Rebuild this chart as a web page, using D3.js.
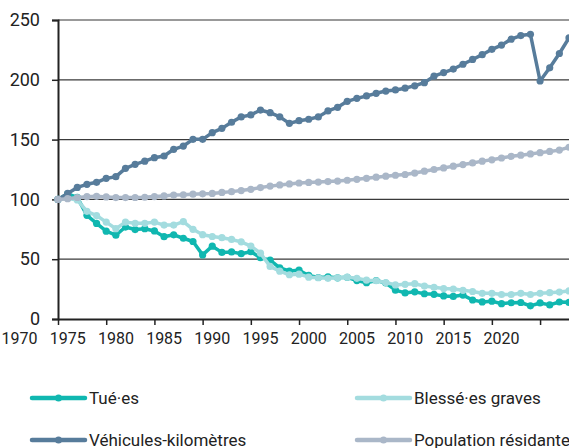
<!DOCTYPE html>
<html>
<head>
<meta charset="utf-8">
<script src="https://cdn.jsdelivr.net/npm/d3@7"></script>
<style>
  body { margin: 0; background: #fff; }
  svg text { font-family: "Roboto", sans-serif; fill: #222; }
</style>
</head>
<body>
<div id="container"></div>
<script>
/** DATA (indice 1970 = 100) */
const years = d3.range(1970, 2024);

const tues = [100, 104.7, 101.7, 86.7, 79.9, 73.4, 70.1, 76.9, 74.8, 75.5,
  73.6, 68.8, 70.4, 67.5, 64.8, 53.6, 60.9, 55.7, 56.1, 54.6,
  56.3, 51.3, 49.2, 42.7, 40.1, 40.8, 36.4, 34.7, 35.2, 34.4,
  34.9, 32.1, 30.3, 32.2, 30.1, 24.1, 21.8, 22.7, 21.1, 20.6,
  19.3, 18.9, 20.0, 15.9, 14.3, 14.9, 12.8, 13.6, 13.8, 11.0,
  13.4, 11.8, 14.2, 13.9];

const blesses = [100, 101, 99.5, 90, 86.5, 81, 75.5, 81, 80, 80,
  81, 78.5, 78.5, 81.5, 75, 70.5, 69, 68, 66.5, 64.5,
  61, 55, 44, 40, 37, 37.5, 35, 34.5, 34, 34.5,
  35, 34, 32.5, 32, 30.5, 28.5, 29, 29.5, 27.5, 26.5,
  25.5, 25, 24, 23, 21.5, 21.5, 20.5, 20.5, 21.5, 20.5,
  21.5, 22, 22.5, 23.5];

const vehKm = [100, 105, 110, 112.6, 114.3, 117.6, 119, 126, 129.3, 132,
  134.9, 136.3, 141.9, 144.6, 150.2, 150.2, 155.8, 159.4, 164.5, 169,
  170.6, 174.7, 172.5, 169, 163.6, 165.8, 167, 169, 174, 177,
  182, 184.5, 186.5, 188.7, 190.6, 191.5, 193, 195, 197.6, 203,
  206, 209, 213, 217, 221, 225.5, 229, 234, 237, 238,
  199, 210, 222, 235];

const population = [100, 100.6, 101.6, 102.3, 102.6, 102.1, 101.5, 101.5, 101.6, 101.8,
  102.4, 102.9, 103.6, 103.9, 104.4, 104.7, 105.0, 105.8, 106.5, 107.4,
  108.4, 109.9, 111.1, 112.1, 112.9, 113.7, 114.2, 114.5, 114.9, 115.3,
  116.0, 116.8, 117.6, 118.6, 119.4, 120.2, 120.8, 122.0, 123.6, 125.0,
  126.3, 127.8, 129.1, 130.5, 132.0, 133.1, 134.6, 136.0, 137.0, 138.0,
  139.1, 140.1, 141.2, 143.6];

const seriesNames = ["Tué·es", "Blessé·es graves", "Véhicules-kilomètres", "Population résidante"];
const seriesValues = [tues, blesses, vehKm, population];
const seriesColors = ["#10b7b0", "#a3dcdf", "#577c9b", "#aab7c8"];

const yTicks = [0, 50, 100, 150, 200, 250];
const xTicks = d3.range(1970, 2021, 5);

/** CONSTANTS */
const width = 569,
  height = 448,
  margin = { top: 20, bottom: 129, left: 58, right: 0 };

const svg = d3.select("#container")
  .append("svg")
  .attr("width", width)
  .attr("height", height);

const x = d3.scaleLinear()
  .domain([1970, 2023])
  .range([margin.left, width - margin.right]);

const y = d3.scaleLinear()
  .domain([0, 250])
  .range([height - margin.bottom, margin.top]);

// gridlines
svg.selectAll(".grid")
  .data(yTicks.filter(d => d > 0))
  .join("line")
  .attr("class", "grid")
  .attr("x1", margin.left)
  .attr("x2", width)
  .attr("y1", d => y(d))
  .attr("y2", d => y(d))
  .attr("stroke", d => d === 250 ? "#999" : "#3a3a3a")
  .attr("stroke-width", d => d === 250 ? 2 : 1.2);

// y axis
const yAxis = svg.append("g")
  .attr("transform", `translate(${margin.left},0)`)
  .call(d3.axisLeft(y).tickValues(yTicks).tickSize(6).tickPadding(12));
yAxis.select(".domain").attr("stroke", "#222").attr("stroke-width", 2);
yAxis.selectAll(".tick line").attr("stroke", "#222").attr("stroke-width", 1.5);
yAxis.selectAll(".tick text").style("font-size", "18px");

// x axis
const xAxis = svg.append("g")
  .attr("transform", `translate(0,${y(0)})`)
  .call(d3.axisBottom(x).tickValues(xTicks).tickFormat(d3.format("d")).tickSize(6).tickSizeOuter(0));
xAxis.select(".domain").attr("stroke", "#222").attr("stroke-width", 2);
xAxis.selectAll(".tick line").attr("stroke", "#222").attr("stroke-width", 1.5);
// labels sit left of their tick in the original
xAxis.selectAll(".tick text")
  .attr("x", -39)
  .attr("y", 14)
  .style("font-size", "16px");

// series
const line = d3.line()
  .x((d, i) => x(years[i]))
  .y(d => y(d));

seriesValues.forEach((vals, k) => {
  const g = svg.append("g");
  g.append("path")
    .datum(vals)
    .attr("d", line)
    .attr("fill", "none")
    .attr("stroke", seriesColors[k])
    .attr("stroke-width", 3.5)
    .attr("stroke-linejoin", "round");
  g.selectAll("circle")
    .data(vals)
    .join("circle")
    .attr("cx", (d, i) => x(years[i]))
    .attr("cy", d => y(d))
    .attr("r", 3.6)
    .attr("fill", seriesColors[k]);
});

// legend
const legendPos = [[32, 398], [357, 398], [32, 440], [357, 440]];
seriesNames.forEach((name, k) => {
  const [lx, ly] = legendPos[k];
  const g = svg.append("g").attr("transform", `translate(${lx},${ly})`);
  g.append("line")
    .attr("x1", 0).attr("x2", 53)
    .attr("y1", 0).attr("y2", 0)
    .attr("stroke", seriesColors[k])
    .attr("stroke-width", 4.5)
    .attr("stroke-linecap", "round");
  g.append("circle")
    .attr("cx", 26.5).attr("cy", 0).attr("r", 3.5)
    .attr("fill", seriesColors[k]);
  g.append("text")
    .attr("x", 57)
    .attr("y", 0)
    .attr("dy", "0.35em")
    .style("font-size", "17px")
    .text(name);
});
</script>
</body>
</html>
